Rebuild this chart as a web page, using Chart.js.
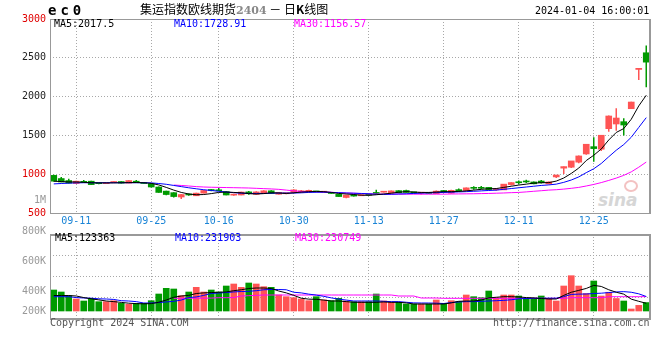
<!DOCTYPE html>
<html>
<head>
<meta charset="utf-8">
<script src="https://cdn.jsdelivr.net/npm/chart.js@4.4.1/dist/chart.umd.min.js"></script>
<style>
  html, body { margin: 0; padding: 0; background: #fff; }
  #wrap { position: relative; width: 660px; height: 360px; overflow: hidden; font-family: 'DejaVu Sans Mono', monospace; }
  #wrap canvas { position: absolute; left: 0; }
  .t { position: absolute; font-size: 10px; line-height: 10px; white-space: nowrap; }
  .ax { position: absolute; left: 0; width: 46px; text-align: right; font-size: 10px; line-height: 10px; color: #999; }
</style>
</head>
<body>
<div id="wrap">
  <!-- watermark sits under the charts -->
  <div style="position:absolute;left:598px;top:176px;width:60px;height:36px;">
    <div style="position:absolute;left:26px;top:4px;width:10px;height:8px;border:2px solid #f3c2c2;border-radius:50%;"></div>
    <div style="position:absolute;left:0px;top:14px;font:italic bold 17px 'DejaVu Sans';color:#d6d6d6;">sina</div>
  </div>

  <canvas id="kline" width="660" height="230" style="top:0"></canvas>
  <canvas id="vol" width="660" height="100" style="top:226px"></canvas>

  <div class="t" style="left:48px;top:3px;font-weight:bold;font-size:14px;line-height:14px;letter-spacing:4px;">ec0</div>
  <div class="t" style="left:140px;top:2px;font-family:'Noto Sans CJK SC';font-size:12px;line-height:14px;">集运指数欧线期货<span style="color:#888;font-family:'DejaVu Serif';font-weight:bold;font-size:11px;">2404</span>&nbsp;－&nbsp;日<b>K</b>线图</div>
  <div class="t" style="left:535px;top:6px;">2024-01-04 16:00:01</div>

  <div class="t" id="pMa5" style="left:54px;top:19px;color:#000;"></div>
  <div class="t" id="pMa10" style="left:174px;top:19px;color:#0000ff;"></div>
  <div class="t" id="pMa30" style="left:294px;top:19px;color:#ff00ff;"></div>

  <div class="t" id="vMa5" style="left:55px;top:233px;color:#000;"></div>
  <div class="t" id="vMa10" style="left:175px;top:233px;color:#0000ff;"></div>
  <div class="t" id="vMa30" style="left:295px;top:233px;color:#ff00ff;"></div>

  <div id="volAxis"></div>

  <div class="t" style="left:50px;top:318px;color:#555;">Copyright 2024 SINA.COM</div>
  <div class="t" style="left:493px;top:318px;color:#555;">http://finance.sina.com.cn</div>
</div>

<script>
// 日K数据 (80 个交易日)
const dates = [
  '09-06','09-07','09-08','09-11','09-12','09-13','09-14','09-15','09-18','09-19',
  '09-20','09-21','09-22','09-25','09-26','09-27','09-28','10-09','10-10','10-11',
  '10-12','10-13','10-16','10-17','10-18','10-19','10-20','10-23','10-24','10-25',
  '10-26','10-27','10-30','10-31','11-01','11-02','11-03','11-06','11-07','11-08',
  '11-09','11-10','11-13','11-14','11-15','11-16','11-17','11-20','11-21','11-22',
  '11-23','11-24','11-27','11-28','11-29','11-30','12-01','12-04','12-05','12-06',
  '12-07','12-08','12-11','12-12','12-13','12-14','12-15','12-18','12-19','12-20',
  '12-21','12-22','12-25','12-26','12-27','12-28','12-29','01-02','01-03','01-04'
];
const tickDates = ['09-11','09-25','10-16','10-30','11-13','11-27','12-11','12-25'];

const opens = [
  985, 944, 918, 880, 905, 910, 880, 878, 893, 905,
  885, 910, 892, 878, 835, 782, 762, 706, 742, 722,
  756, 798, 798, 775, 730, 732, 772, 740, 752, 786,
  742, 748, 765, 768, 772, 780, 768, 765, 740, 700,
  732, 722, 738, 762, 768, 760, 788, 790, 765, 755,
  762, 750, 790, 756, 798, 790, 830, 830, 830, 798,
  798, 866, 898, 908, 900, 912, 875, 965, 1078, 1090,
  1155, 1261, 1355, 1322, 1587, 1647, 1677, 1844, 2350, 2565
];
const highs = [
  992, 965, 940, 915, 925, 915, 888, 890, 910, 910,
  922, 925, 900, 882, 840, 788, 766, 745, 750, 760,
  795, 810, 822, 780, 748, 775, 785, 780, 792, 792,
  770, 760, 805, 795, 800, 785, 782, 770, 745, 735,
  738, 740, 742, 800, 782, 790, 792, 800, 770, 768,
  766, 790, 795, 800, 815, 828, 845, 848, 835, 815,
  875, 895, 920, 930, 905, 925, 905, 990, 1098, 1171,
  1240, 1390, 1476, 1505, 1755, 1850, 1720, 1935, 2364, 2660
];
const lows = [
  905, 895, 880, 875, 890, 860, 872, 875, 888, 880,
  882, 885, 876, 830, 762, 730, 700, 680, 722, 718,
  752, 780, 780, 728, 722, 728, 735, 735, 748, 745,
  738, 742, 760, 762, 768, 768, 762, 748, 708, 690,
  712, 718, 725, 745, 765, 755, 755, 760, 755, 740,
  748, 745, 765, 752, 772, 785, 800, 805, 798, 788,
  795, 855, 870, 885, 872, 880, 870, 950, 1004, 1080,
  1140, 1250, 1162, 1300, 1548, 1560, 1500, 1840, 2213, 2119
];
const closes = [
  910, 900, 885, 910, 895, 866, 878, 885, 905, 885,
  918, 890, 880, 835, 765, 738, 712, 738, 732, 756,
  790, 790, 786, 732, 742, 770, 748, 772, 786, 752,
  765, 756, 798, 786, 792, 772, 778, 752, 712, 730,
  718, 735, 730, 752, 778, 785, 760, 765, 760, 762,
  752, 782, 770, 792, 788, 824, 818, 818, 802, 810,
  872, 892, 890, 900, 876, 890, 900, 990, 1098, 1171,
  1235, 1386, 1330, 1502, 1750, 1724, 1634, 1930, 2364, 2444
];

// 均线
const ma5 = [
  910, 905, 900, 900, 895, 890, 888, 888, 888, 890,
  892, 893, 890, 882, 862, 830, 795, 765, 745, 735,
  738, 750, 765, 770, 765, 760, 750, 745, 750, 760,
  758, 752, 760, 770, 775, 778, 775, 765, 752, 745,
  738, 730, 728, 735, 745, 755, 768, 775, 770, 765,
  765, 770, 775, 775, 778, 785, 795, 805, 812, 815,
  830, 845, 860, 872, 885, 890, 892, 911, 951, 1010,
  1079, 1176, 1244, 1325, 1441, 1538, 1588, 1708, 1880, 2017.5
];
const ma10 = [
  875, 880, 885, 888, 890, 890, 890, 890, 890, 890,
  890, 890, 890, 888, 880, 870, 855, 840, 825, 812,
  800, 790, 780, 770, 762, 755, 752, 752, 752, 755,
  757, 757, 757, 760, 765, 768, 768, 765, 762, 758,
  755, 752, 748, 742, 740, 742, 745, 748, 752, 756,
  760, 762, 765, 768, 772, 775, 780, 785, 790, 795,
  805, 815, 825, 835, 845, 855, 862, 872, 895, 925,
  965, 1020, 1070, 1138, 1225, 1309, 1382, 1476, 1603, 1728.91
];
const ma30 = [
  null, null, null, null, null, null, null, null, null, null,
  null, null, null, null, null, null, 860, 855, 848, 840,
  835, 832, 830, 828, 826, 824, 822, 818, 814, 810,
  805, 795, 785, 778, 775, 772, 770, 768, 760, 757,
  755, 750, 746, 744, 743, 743, 743, 743, 743, 743,
  743, 743, 743, 745, 746, 747, 748, 750, 752, 755,
  758, 762, 765, 772, 780, 787, 795, 800, 808, 818,
  830, 848, 868, 892, 920, 950, 985, 1030, 1090, 1156.57
];

// 成交量
const volumes = [
  336000, 304000, 245000, 192000, 160000, 203000, 149000, 149000, 165000, 123000,
  107000, 123000, 123000, 165000, 272000, 363000, 352000, 245000, 304000, 379000,
  304000, 336000, 304000, 400000, 432000, 379000, 448000, 432000, 389000, 379000,
  256000, 229000, 213000, 192000, 165000, 229000, 176000, 165000, 203000, 160000,
  149000, 149000, 149000, 272000, 160000, 139000, 139000, 112000, 112000, 112000,
  112000, 176000, 123000, 165000, 149000, 256000, 229000, 213000, 320000, 213000,
  256000, 256000, 240000, 203000, 203000, 240000, 203000, 160000, 400000, 565000,
  400000, 280000, 480000, 240000, 300000, 200000, 160000, 32000, 90000, 135000
];
const volMa5 = [
  248000, 248000, 248000, 240000, 215000, 195000, 178000, 160000, 150000, 138000,
  125000, 118000, 115000, 118000, 140000, 176000, 220000, 240000, 250000, 280000,
  290000, 295000, 300000, 305000, 325000, 340000, 360000, 368000, 368000, 360000,
  320000, 290000, 250000, 205000, 190000, 187000, 175000, 160000, 160000, 150000,
  140000, 139000, 139000, 139000, 145000, 139000, 139000, 130000, 112000, 112000,
  112000, 112000, 112000, 130000, 155000, 160000, 160000, 175000, 210000, 220000,
  229000, 229000, 225000, 215000, 210000, 200000, 192000, 192000, 250000, 300000,
  330000, 361000, 410000, 393000, 340000, 300000, 270000, 190000, 155000, 123363
];
const volMa10 = [
  229000, 229000, 229000, 215000, 208000, 205000, 195000, 192000, 185000, 165000,
  160000, 150000, 128000, 128000, 135000, 145000, 155000, 175000, 215000, 225000,
  250000, 280000, 288000, 295000, 305000, 312000, 315000, 325000, 340000, 344000,
  344000, 340000, 300000, 290000, 270000, 255000, 235000, 210000, 190000, 175000,
  160000, 160000, 160000, 160000, 155000, 150000, 150000, 140000, 130000, 128000,
  128000, 125000, 120000, 135000, 145000, 150000, 150000, 155000, 160000, 165000,
  170000, 180000, 195000, 200000, 203000, 203000, 205000, 205000, 230000, 265000,
  270000, 272000, 280000, 285000, 295000, 305000, 310000, 300000, 275000, 231903
];
const volMa30 = [
  null, null, null, null, null, null, null, null, null, null,
  null, null, null, null, null, null, 203000, 203000, 205000, 205000,
  205000, 207000, 213000, 213000, 215000, 240000, 245000, 250000, 256000, 256000,
  256000, 256000, 256000, 256000, 256000, 256000, 256000, 256000, 256000, 256000,
  256000, 256000, 256000, 256000, 256000, 256000, 240000, 240000, 240000, 208000,
  208000, 208000, 203000, 203000, 203000, 203000, 203000, 203000, 203000, 203000,
  203000, 203000, 203000, 203000, 203000, 203000, 203000, 203000, 203000, 213000,
  213000, 213000, 213000, 213000, 229000, 229000, 229000, 229000, 229000, 230749
];

const priceTicks = [500, 1000, 1500, 2000, 2500, 3000];
const redTicks = [500, 1000, 3000];
const volTickLabels = ['1M', '800K', '600K', '400K', '200K'];

// 样式
const UP = '#ff5454';
const DOWN = '#009a00';
const GRID = '#a8a8a8';
const FRAME = '#999';
const volLabelTops = [195, 226, 256, 286, 306];

Chart.defaults.font.family = "'DejaVu Sans Mono', monospace";
Chart.defaults.font.size = 10;

function candleColor(ctx) {
    const i = ctx.dataIndex;
    return closes[i] >= opens[i] ? UP : DOWN;
}

function maLine(data, color) {
    return {
        type: 'line',
        data: data,
        borderColor: color,
        borderWidth: 1,
        pointRadius: 0,
        tension: 0,
        spanGaps: false,
        order: 0
    };
}

// 边框
const framePlugin = {
    id: 'frame',
    afterDraw(chart, args, opts) {
        const { ctx, chartArea: a } = chart;
        ctx.save();
        ctx.strokeStyle = FRAME;
        ctx.lineWidth = 1;
        ctx.beginPath();
        ctx.moveTo(a.left + 0.5, a.top);
        ctx.lineTo(a.left + 0.5, a.bottom + 1);
        ctx.stroke();
        ctx.lineWidth = opts.top || 1;
        ctx.beginPath();
        ctx.moveTo(a.left, a.top + (opts.top || 1) / 2);
        ctx.lineTo(a.right + 1, a.top + (opts.top || 1) / 2);
        ctx.stroke();
        ctx.lineWidth = opts.bottom || 1;
        ctx.beginPath();
        ctx.moveTo(a.left, a.bottom + (opts.bottom || 1) / 2);
        ctx.lineTo(a.right + 1, a.bottom + (opts.bottom || 1) / 2);
        ctx.stroke();
        ctx.lineWidth = 2;
        ctx.beginPath();
        ctx.moveTo(a.right, a.top);
        ctx.lineTo(a.right, a.bottom + 1);
        ctx.stroke();
        ctx.restore();
    }
};

function dateTicks(scale) {
    scale.ticks = tickDates.map(d => ({ value: dates.indexOf(d) }));
}

// K线图
const wicks = dates.map((d, i) => [lows[i], highs[i]]);
const bodies = dates.map((d, i) => [opens[i], closes[i]]);

new Chart(document.getElementById('kline'), {
    type: 'bar',
    data: {
        labels: dates,
        datasets: [
            maLine(ma5, '#000000'),
            maLine(ma10, '#0000ff'),
            maLine(ma30, '#ff00ff'),
            {
                data: bodies,
                backgroundColor: candleColor,
                barThickness: 6,
                minBarLength: 1,
                grouped: false,
                order: 1
            },
            {
                data: wicks,
                backgroundColor: candleColor,
                barThickness: 1.5,
                inflateAmount: 0,
                grouped: false,
                order: 2
            }
        ]
    },
    options: {
        responsive: false,
        animation: false,
        devicePixelRatio: 1,
        events: [],
        layout: { padding: { top: 19, right: 10, left: 0, bottom: 0 } },
        plugins: {
            legend: { display: false },
            tooltip: { enabled: false },
            frame: { top: 1, bottom: 1 }
        },
        scales: {
            x: {
                offset: true,
                grid: { color: GRID, offset: false, drawTicks: false },
                border: { display: false, dash: [1, 2] },
                ticks: { autoSkip: false, maxRotation: 0, padding: 2, color: '#1a84d6' },
                afterBuildTicks: dateTicks,
                afterFit: s => { s.height = 17; }
            },
            y: {
                min: 500,
                max: 3000,
                grid: { color: GRID, drawTicks: false },
                border: { display: false, dash: [1, 2] },
                ticks: {
                    padding: 4,
                    color: c => redTicks.includes(c.tick.value) ? '#e00000' : '#222',
                    callback: v => String(v)
                },
                afterBuildTicks: s => { s.ticks = priceTicks.map(v => ({ value: v })); },
                afterFit: s => { s.width = 50; }
            }
        }
    },
    plugins: [framePlugin]
});

// 成交量
const volMin = -112000;
const volMax = 1232000;

new Chart(document.getElementById('vol'), {
    type: 'bar',
    data: {
        labels: dates,
        datasets: [
            maLine(volMa5, '#000000'),
            maLine(volMa10, '#0000ff'),
            maLine(volMa30, '#ff00ff'),
            {
                data: volumes,
                backgroundColor: candleColor,
                barThickness: 6,
                order: 1
            }
        ]
    },
    options: {
        responsive: false,
        animation: false,
        devicePixelRatio: 1,
        events: [],
        layout: { padding: { top: 8, right: 10, left: 0, bottom: 8 } },
        plugins: {
            legend: { display: false },
            tooltip: { enabled: false },
            frame: { top: 2, bottom: 2 }
        },
        scales: {
            x: {
                offset: true,
                grid: { color: GRID, offset: false, drawTicks: false },
                border: { display: false, dash: [1, 2] },
                ticks: { display: false, autoSkip: false },
                afterBuildTicks: dateTicks,
                afterFit: s => { s.height = 0; }
            },
            y: {
                min: volMin,
                max: volMax,
                grid: { color: GRID, drawTicks: false },
                border: { display: false, dash: [1, 2] },
                ticks: { display: false },
                afterBuildTicks: s => {
                    const step = (volMax - volMin) / 4;
                    s.ticks = [0, 1, 2, 3, 4].map(j => ({ value: volMin + j * step }));
                },
                afterFit: s => { s.width = 50; }
            }
        }
    },
    plugins: [framePlugin]
});

// 标题栏数值
const last = arr => arr[arr.length - 1];
document.getElementById('pMa5').textContent = 'MA5:' + last(ma5);
document.getElementById('pMa10').textContent = 'MA10:' + last(ma10);
document.getElementById('pMa30').textContent = 'MA30:' + last(ma30);
document.getElementById('vMa5').textContent = 'MA5:' + last(volMa5);
document.getElementById('vMa10').textContent = 'MA10:' + last(volMa10);
document.getElementById('vMa30').textContent = 'MA30:' + last(volMa30);

const volAxis = document.getElementById('volAxis');
volTickLabels.forEach((txt, i) => {
    const el = document.createElement('div');
    el.className = 'ax';
    el.style.top = volLabelTops[i] + 'px';
    el.textContent = txt;
    volAxis.appendChild(el);
});
</script>
</body>
</html>
